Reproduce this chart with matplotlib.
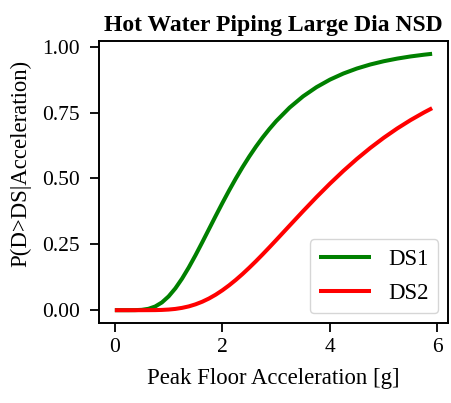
import matplotlib
matplotlib.use("Agg")
import matplotlib.pyplot as plt

# Peak floor acceleration [g]
pfa = [0.0, 0.25, 0.375, 0.5, 0.625, 0.75, 0.875, 1.0, 1.125, 1.25, 1.375, 1.5,
       1.625, 1.75, 1.875, 2.0, 2.125, 2.25, 2.375, 2.5, 2.625, 2.75, 2.875, 3.0,
       3.25, 3.5, 3.75, 4.0, 4.25, 4.5, 4.75, 5.0, 5.25, 5.5, 5.75, 5.9]

# Probability of exceeding each damage state
ds1 = [0.0, 0.0, 0.0002, 0.0013, 0.0052, 0.0140, 0.0294, 0.0524, 0.0828, 0.1199,
       0.1623, 0.2087, 0.2576, 0.3076, 0.3577, 0.4069, 0.4545, 0.5, 0.5430,
       0.5834, 0.6211, 0.6559, 0.6880, 0.7175, 0.7690, 0.8116, 0.8465, 0.8751,
       0.8983, 0.9172, 0.9325, 0.9449, 0.9549, 0.9631, 0.9697, 0.9731]
ds2 = [0.0, 0.0, 0.0, 0.0, 0.0001, 0.0003, 0.0010, 0.0024, 0.0048, 0.0088,
       0.0144, 0.0222, 0.0321, 0.0443, 0.0588, 0.0756, 0.0944, 0.1151, 0.1374,
       0.1613, 0.1862, 0.2122, 0.2389, 0.2661, 0.3211, 0.3758, 0.4292, 0.4803,
       0.5287, 0.5739, 0.6158, 0.6543, 0.6896, 0.7216, 0.7506, 0.7667]

series_labels = ["DS1", "DS2"]
series_colors = ["green", "red"]
x_ticks = [0, 2, 4, 6]
y_ticks = [0.0, 0.25, 0.5, 0.75, 1.0]

plt.rcParams["font.family"] = ["Liberation Serif", "DejaVu Serif"]

fig = plt.figure(figsize=(4.51, 4.03), dpi=100)
ax = fig.add_axes([0.2195, 0.1985, 0.7738, 0.6998])

for ys, lab, col in zip([ds1, ds2], series_labels, series_colors):
    ax.plot(pfa, ys, color=col, lw=2.9, label=lab,
            solid_joinstyle="round", solid_capstyle="butt")

ax.set_xticks(x_ticks)
ax.set_yticks(y_ticks)
ax.set_yticklabels([f"{v:.2f}" for v in y_ticks])
ax.tick_params(labelsize=15.5, width=1.3, length=6.5, direction="out")
ax.tick_params(axis="y", pad=7.5)
ax.tick_params(axis="x", pad=4)
for s in ax.spines.values():
    s.set_linewidth(1.4)

ax.set_xlabel("Peak Floor Acceleration [g]", fontsize=16.4, labelpad=8)
ax.set_ylabel("P(D>DS|Acceleration)", fontsize=16.4)
ax.yaxis.set_label_coords(-0.195, 0.567)
ax.set_title("Hot Water Piping Large Dia NSD", fontsize=17, fontweight="bold", pad=7)

ax.legend(loc="lower right", fontsize=16.5, handlelength=2.27, borderpad=0.42,
          labelspacing=0.55, handletextpad=0.74, borderaxespad=0.42)

fig.savefig("out.png", dpi=100)
